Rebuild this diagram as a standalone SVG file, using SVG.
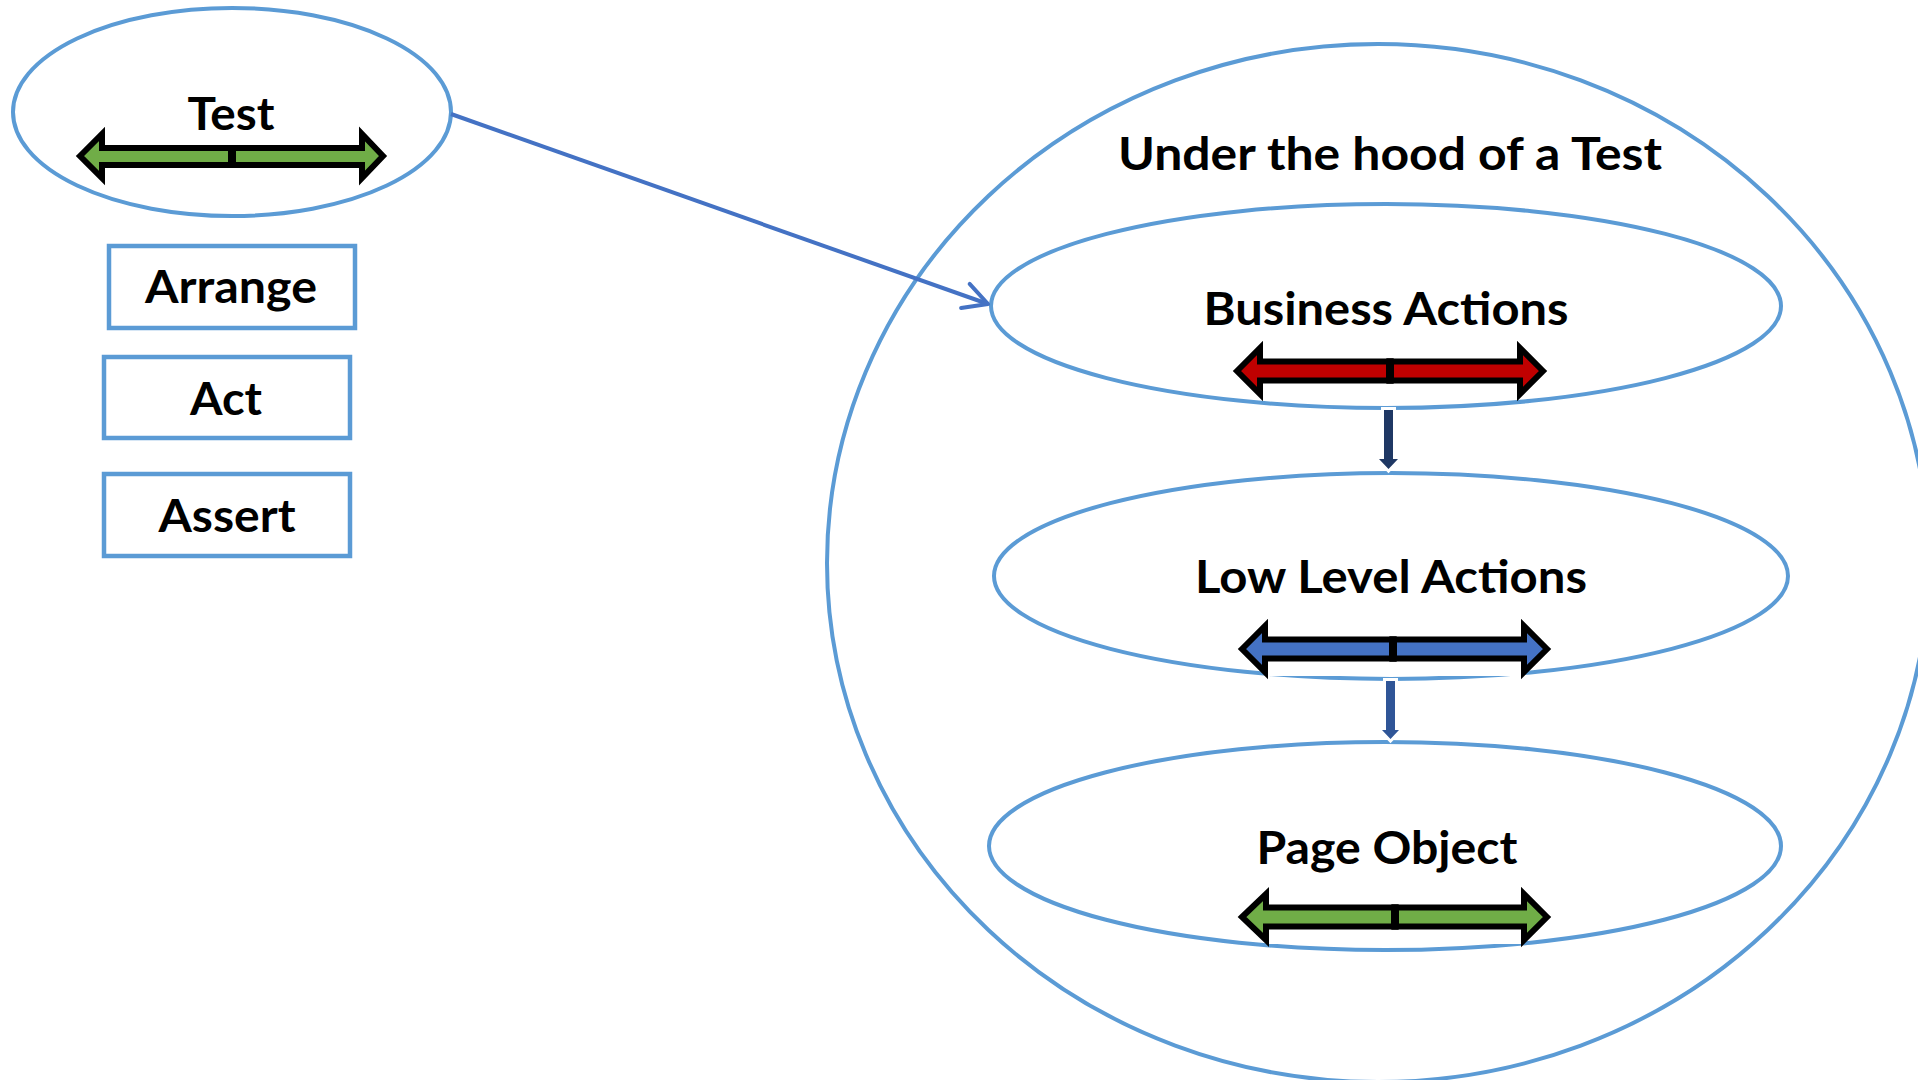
<svg xmlns="http://www.w3.org/2000/svg" width="1918" height="1080" viewBox="0 0 1918 1080">
<style>
.ell{fill:none;stroke:#5B9BD5;stroke-width:4}
.box{fill:#fff;stroke:#5B9BD5;stroke-width:4.5}
.lbl{font-family:Lato,"Liberation Sans",sans-serif;font-weight:bold;font-size:46px;fill:#000;text-anchor:middle}
.dbl{stroke:#000;stroke-width:6;stroke-linejoin:miter;stroke-miterlimit:10}
.mid{fill:#000}
.down{stroke:#fff;stroke-width:6;stroke-linejoin:miter;paint-order:stroke}
</style>
<defs>
<marker id="open" viewBox="0 0 20 20" refX="17" refY="10" markerWidth="8" markerHeight="8" markerUnits="strokeWidth" orient="auto">
<path d="M2,2 L17,10 L2,18" fill="none" stroke="#4472C4" stroke-width="2.5" stroke-linecap="round" stroke-linejoin="round"/>
</marker>
</defs>
<rect width="1918" height="1080" fill="#fff"/>

<g id="under-the-hood">
<ellipse class="ell" cx="1378" cy="563" rx="551" ry="519"/>
<text class="lbl" x="1390" y="170" textLength="544" lengthAdjust="spacingAndGlyphs">Under the hood of a Test</text>
</g>

<g id="test">
<ellipse class="ell" cx="232" cy="112" rx="219" ry="104"/>
<text class="lbl" x="231" y="130" textLength="87" lengthAdjust="spacingAndGlyphs">Test</text>
<polygon class="dbl" fill="#70AD47" points="80,156 102,134 102,148 232,148 232,165 102,165 102,178"/>
<polygon class="dbl" fill="#70AD47" points="383,156 362,134 362,148 232,148 232,165 362,165 362,178"/>
<rect class="mid" x="228" y="145" width="8" height="23"/>
</g>

<g id="arrange">
<rect class="box" x="109" y="246" width="246" height="82"/>
<text class="lbl" x="231" y="303" textLength="172" lengthAdjust="spacingAndGlyphs">Arrange</text>
</g>
<g id="act">
<rect class="box" x="104" y="357" width="246" height="81"/>
<text class="lbl" x="226" y="415" textLength="72" lengthAdjust="spacingAndGlyphs">Act</text>
</g>
<g id="assert">
<rect class="box" x="104" y="474" width="246" height="82"/>
<text class="lbl" x="227" y="532" textLength="137" lengthAdjust="spacingAndGlyphs">Assert</text>
</g>

<g id="business-actions">
<ellipse class="ell" cx="1386" cy="306" rx="395" ry="102"/>
<text class="lbl" x="1386" y="325" textLength="365" lengthAdjust="spacingAndGlyphs">Business Actions</text>
<polygon class="dbl" fill="#C00000" points="1237,371 1260,348 1260,361.5 1390,361.5 1390,380.5 1260,380.5 1260,394"/>
<polygon class="dbl" fill="#C00000" points="1543,371 1520,348 1520,361.5 1390,361.5 1390,380.5 1520,380.5 1520,394"/>
<rect class="mid" x="1386" y="358.5" width="8" height="25"/>
</g>

<g id="low-level-actions">
<ellipse class="ell" cx="1391" cy="576" rx="397" ry="103"/>
<text class="lbl" x="1391" y="593" textLength="392" lengthAdjust="spacingAndGlyphs">Low Level Actions</text>
<rect x="1265" y="626" width="259" height="50" fill="#fff"/>
<polygon class="dbl" fill="#4472C4" points="1242,649 1265,626 1265,639.5 1393,639.5 1393,658.5 1265,658.5 1265,672"/>
<polygon class="dbl" fill="#4472C4" points="1547,649 1524,626 1524,639.5 1393,639.5 1393,658.5 1524,658.5 1524,672"/>
<rect class="mid" x="1389" y="636.5" width="8" height="25"/>
</g>

<g id="page-object">
<ellipse class="ell" cx="1385" cy="846" rx="396" ry="104"/>
<text class="lbl" x="1387" y="864" textLength="261" lengthAdjust="spacingAndGlyphs">Page Object</text>
<rect x="1266" y="894" width="258" height="50" fill="#fff"/>
<polygon class="dbl" fill="#70AD47" points="1242,917 1266,894 1266,907.5 1395,907.5 1395,926.5 1266,926.5 1266,940"/>
<polygon class="dbl" fill="#70AD47" points="1547,917 1524,894 1524,907.5 1395,907.5 1395,926.5 1524,926.5 1524,940"/>
<rect class="mid" x="1391" y="904.5" width="8" height="25"/>
</g>

<g id="connectors">
<line x1="451" y1="114" x2="988" y2="304" stroke="#4472C4" stroke-width="4" marker-end="url(#open)"/>
<polygon class="down" fill="#1F3864" points="1384,410 1393,410 1393,459 1398,459 1388.5,469 1379,459 1384,459"/>
<polygon class="down" fill="#2F5597" points="1386,681 1395,681 1395,730 1399,730 1390.5,739 1382,730 1386,730"/>
</g>
</svg>
